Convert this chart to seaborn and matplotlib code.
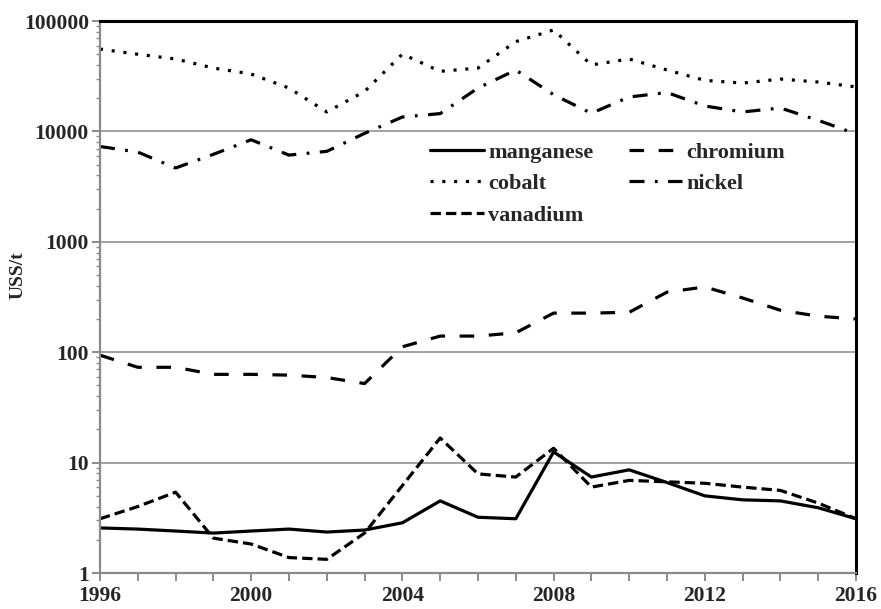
import matplotlib
matplotlib.use("Agg")
import matplotlib.pyplot as plt
from matplotlib.lines import Line2D
from matplotlib.ticker import LogLocator, FixedLocator, NullFormatter
import numpy as np
import pandas as pd
import seaborn as sns

# Annual prices, US$ per tonne
years = list(range(1996, 2017))
manganese = [2.56, 2.5, 2.4, 2.3, 2.4, 2.5, 2.35, 2.45, 2.85, 4.5, 3.2, 3.1,
             12.5, 7.4, 8.6, 6.6, 5.0, 4.6, 4.5, 3.9, 3.1]
chromium = [94, 73, 73, 63, 63, 62, 59, 52, 112, 140, 140, 150,
            226, 226, 230, 350, 390, 310, 240, 212, 200]
cobalt = [55700, 50000, 45300, 37500, 33100, 24700, 15000, 23000, 50200, 35000,
          37500, 65000, 83000, 40000, 45300, 36000, 29000, 27400, 29800, 28000, 25300]
nickel = [7300, 6500, 4660, 6200, 8400, 6100, 6600, 9600, 13500, 14500,
          24700, 36000, 21500, 14600, 20500, 22500, 17000, 15000, 16300, 12600, 9500]
vanadium = [3.1, 4.0, 5.4, 2.07, 1.83, 1.38, 1.33, 2.3, 6.2, 16.7, 7.9, 7.4,
            13.5, 6.0, 6.9, 6.7, 6.5, 6.0, 5.6, 4.3, 3.1]

metals = ["manganese", "chromium", "cobalt", "nickel", "vanadium"]
series = dict(zip(metals, [manganese, chromium, cobalt, nickel, vanadium]))

df = pd.DataFrame(
    [(y, m, v) for m in metals for y, v in zip(years, series[m])],
    columns=["year", "metal", "price"],
)

sns.set_theme(style="white")
plt.rcParams["font.family"] = ["Liberation Serif", "DejaVu Serif"]
plt.rcParams["font.weight"] = "bold"
plt.rcParams["lines.scale_dashes"] = False

# dash patterns in points
dash_map = {
    "manganese": "",
    "chromium": (10.5, 10.5),
    "cobalt": (2.2, 6.3),
    "nickel": (10.8, 7.5, 2.0, 7.5),
    "vanadium": (7.5, 3.6),
}

fig = plt.figure(figsize=(8.81, 6.09), dpi=100)
ax = fig.add_axes([0.1135, 0.0591, 0.8581, 0.9064])

sns.lineplot(data=df, x="year", y="price", style="metal", style_order=metals,
             dashes=dash_map, color="black", linewidth=2.3, legend=False, ax=ax)

ax.set_yscale("log")
ax.set_ylim(1, 100000)
ax.set_xlim(1996, 2016)

# axes frame
for side in ("left", "bottom"):
    ax.spines[side].set_color("#8a8a8a")
    ax.spines[side].set_linewidth(1.6)
for side in ("top", "right"):
    ax.spines[side].set_color("black")
    ax.spines[side].set_linewidth(2.2)

ax.yaxis.grid(True, which="major", color="#9a9a9a", linewidth=1.3)
ax.xaxis.grid(False)
ax.set_axisbelow(True)

ax.set_xticks(list(range(1996, 2017, 4)))
ax.xaxis.set_minor_locator(FixedLocator(years))
ax.set_yticks([1, 10, 100, 1000, 10000, 100000])
ax.set_yticklabels(["1", "10", "100", "1000", "10000", "100000"])
ax.yaxis.set_minor_locator(LogLocator(base=10, subs=np.arange(2, 10)))
ax.yaxis.set_minor_formatter(NullFormatter())

ax.tick_params(axis="both", which="both", direction="out", color="#8a8a8a",
               labelsize=15.5, bottom=True, left=True)
ax.tick_params(axis="x", which="both", length=6, width=1.4, pad=3)
ax.tick_params(axis="y", which="major", length=6, width=1.4, pad=2)
ax.tick_params(axis="y", which="minor", length=3, width=1.0)
for lab in ax.get_xticklabels() + ax.get_yticklabels():
    lab.set_fontweight("bold")

ax.set_xlabel("")
ax.set_ylabel("USS/t", fontsize=14, fontweight="bold", labelpad=2)
ax.yaxis.set_label_coords(-0.097, 0.54)

# legend entries arranged row-wise in two columns
handles = {m: Line2D([], [], color="black", linewidth=2.3,
                     linestyle="-" if dash_map[m] == "" else (0, dash_map[m]))
           for m in metals}
order = ["manganese", "cobalt", "vanadium", "chromium", "nickel"]
leg = ax.legend([handles[m] for m in order], order, ncol=2, frameon=False,
                loc="upper left", bbox_to_anchor=(0.425, 0.797), borderaxespad=0,
                handlelength=2.4, handletextpad=0.2, columnspacing=1.6,
                labelspacing=0.5, prop={"size": 16, "weight": "bold"})

fig.savefig("out.png", dpi=100, facecolor="white")
